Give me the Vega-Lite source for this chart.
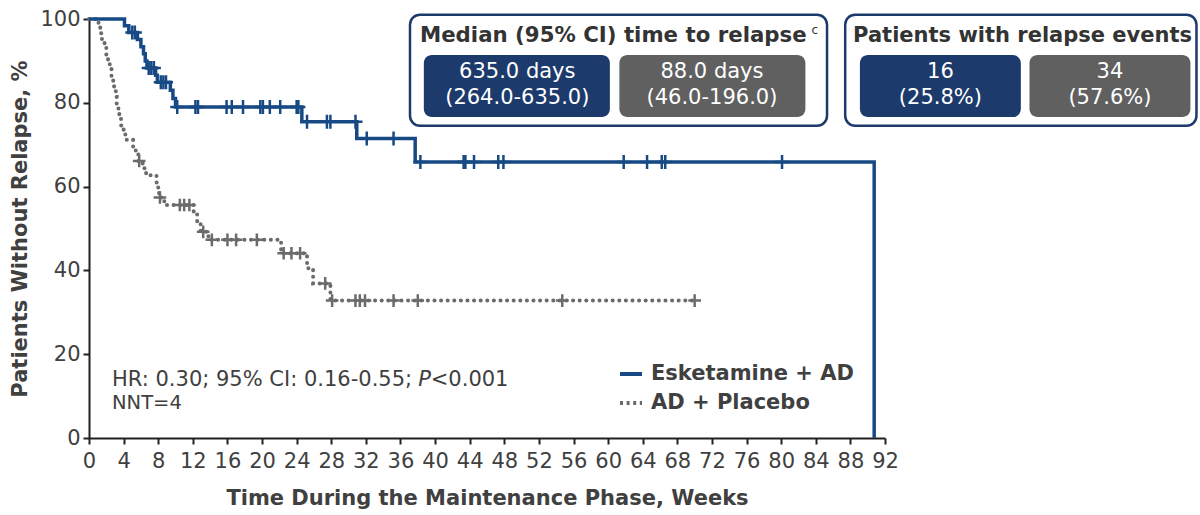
{
  "$schema": "https://vega.github.io/schema/vega-lite/v6.json",
  "width": 796,
  "height": 419,
  "autosize": {"type": "none"},
  "padding": {"left": 89, "top": 19, "right": 315, "bottom": 77},
  "background": "white",
  "config": {
    "view": {"stroke": null},
    "font": "DejaVu Sans",
    "axis": {
      "domainColor": "#231f20", "domainWidth": 2, "tickColor": "#231f20", "tickWidth": 2, "tickSize": 6,
      "labelFont": "DejaVu Sans", "labelFontSize": 21, "labelColor": "#404040", "labelOverlap": false, "labelFlush": false,
      "titleFont": "DejaVu Sans", "titleFontSize": 21, "titleFontWeight": "bold", "titleColor": "#404040",
      "grid": false
    }
  },
  "datasets": {
    "curves": [
      {"arm": "AD + Placebo", "week": 0, "pct": 100},
      {"arm": "AD + Placebo", "week": 1.1, "pct": 98.3},
      {"arm": "AD + Placebo", "week": 1.3, "pct": 96.6},
      {"arm": "AD + Placebo", "week": 1.5, "pct": 94.9},
      {"arm": "AD + Placebo", "week": 1.8, "pct": 93.2},
      {"arm": "AD + Placebo", "week": 2.0, "pct": 91.5},
      {"arm": "AD + Placebo", "week": 2.2, "pct": 89.8},
      {"arm": "AD + Placebo", "week": 2.4, "pct": 88.1},
      {"arm": "AD + Placebo", "week": 2.6, "pct": 86.4},
      {"arm": "AD + Placebo", "week": 2.8, "pct": 84.7},
      {"arm": "AD + Placebo", "week": 2.9, "pct": 83.1},
      {"arm": "AD + Placebo", "week": 3.1, "pct": 81.4},
      {"arm": "AD + Placebo", "week": 3.2, "pct": 79.7},
      {"arm": "AD + Placebo", "week": 3.4, "pct": 78.0},
      {"arm": "AD + Placebo", "week": 3.5, "pct": 76.3},
      {"arm": "AD + Placebo", "week": 3.7, "pct": 74.6},
      {"arm": "AD + Placebo", "week": 4.0, "pct": 72.9},
      {"arm": "AD + Placebo", "week": 4.2, "pct": 71.2},
      {"arm": "AD + Placebo", "week": 5.1, "pct": 69.5},
      {"arm": "AD + Placebo", "week": 5.4, "pct": 67.8},
      {"arm": "AD + Placebo", "week": 5.7, "pct": 66.1},
      {"arm": "AD + Placebo", "week": 6.2, "pct": 64.4},
      {"arm": "AD + Placebo", "week": 6.6, "pct": 62.7},
      {"arm": "AD + Placebo", "week": 7.8, "pct": 61.0},
      {"arm": "AD + Placebo", "week": 8.0, "pct": 59.2},
      {"arm": "AD + Placebo", "week": 8.1, "pct": 57.4},
      {"arm": "AD + Placebo", "week": 8.7, "pct": 55.6},
      {"arm": "AD + Placebo", "week": 12.1, "pct": 53.4},
      {"arm": "AD + Placebo", "week": 12.5, "pct": 51.3},
      {"arm": "AD + Placebo", "week": 12.9, "pct": 49.2},
      {"arm": "AD + Placebo", "week": 13.8, "pct": 47.3},
      {"arm": "AD + Placebo", "week": 22.2, "pct": 44.1},
      {"arm": "AD + Placebo", "week": 25.2, "pct": 40.5},
      {"arm": "AD + Placebo", "week": 25.9, "pct": 36.9},
      {"arm": "AD + Placebo", "week": 27.9, "pct": 32.8},
      {"arm": "AD + Placebo", "week": 70.0, "pct": 32.8},
      {"arm": "Esketamine + AD", "week": 0, "pct": 100},
      {"arm": "Esketamine + AD", "week": 4.1, "pct": 98.4},
      {"arm": "Esketamine + AD", "week": 4.6, "pct": 96.8},
      {"arm": "Esketamine + AD", "week": 5.6, "pct": 95.1},
      {"arm": "Esketamine + AD", "week": 6.0, "pct": 93.4},
      {"arm": "Esketamine + AD", "week": 6.3, "pct": 91.7},
      {"arm": "Esketamine + AD", "week": 6.5, "pct": 90.0},
      {"arm": "Esketamine + AD", "week": 6.7, "pct": 88.3},
      {"arm": "Esketamine + AD", "week": 7.7, "pct": 86.6},
      {"arm": "Esketamine + AD", "week": 7.9, "pct": 84.9},
      {"arm": "Esketamine + AD", "week": 9.4, "pct": 83.0},
      {"arm": "Esketamine + AD", "week": 9.7, "pct": 81.0},
      {"arm": "Esketamine + AD", "week": 10.0, "pct": 79.0},
      {"arm": "Esketamine + AD", "week": 24.6, "pct": 75.5},
      {"arm": "Esketamine + AD", "week": 30.95, "pct": 71.5},
      {"arm": "Esketamine + AD", "week": 37.7, "pct": 65.9},
      {"arm": "Esketamine + AD", "week": 90.75, "pct": 0}
    ],
    "censors": [
      {"arm": "AD + Placebo", "week": 5.8, "pct": 66.1},
      {"arm": "AD + Placebo", "week": 8.2, "pct": 57.4},
      {"arm": "AD + Placebo", "week": 10.5, "pct": 55.6},
      {"arm": "AD + Placebo", "week": 11.0, "pct": 55.6},
      {"arm": "AD + Placebo", "week": 11.6, "pct": 55.6},
      {"arm": "AD + Placebo", "week": 13.2, "pct": 49.2},
      {"arm": "AD + Placebo", "week": 14.2, "pct": 47.3},
      {"arm": "AD + Placebo", "week": 16.0, "pct": 47.3},
      {"arm": "AD + Placebo", "week": 17.0, "pct": 47.3},
      {"arm": "AD + Placebo", "week": 19.4, "pct": 47.3},
      {"arm": "AD + Placebo", "week": 22.5, "pct": 44.1},
      {"arm": "AD + Placebo", "week": 23.4, "pct": 44.1},
      {"arm": "AD + Placebo", "week": 24.4, "pct": 44.1},
      {"arm": "AD + Placebo", "week": 27.3, "pct": 36.9},
      {"arm": "AD + Placebo", "week": 28.1, "pct": 32.8},
      {"arm": "AD + Placebo", "week": 30.8, "pct": 32.8},
      {"arm": "AD + Placebo", "week": 31.3, "pct": 32.8},
      {"arm": "AD + Placebo", "week": 31.9, "pct": 32.8},
      {"arm": "AD + Placebo", "week": 35.2, "pct": 32.8},
      {"arm": "AD + Placebo", "week": 38.0, "pct": 32.8},
      {"arm": "AD + Placebo", "week": 54.7, "pct": 32.8},
      {"arm": "AD + Placebo", "week": 70.0, "pct": 32.8},
      {"arm": "Esketamine + AD", "week": 5.0, "pct": 96.8},
      {"arm": "Esketamine + AD", "week": 5.3, "pct": 96.8},
      {"arm": "Esketamine + AD", "week": 6.9, "pct": 88.3},
      {"arm": "Esketamine + AD", "week": 7.2, "pct": 88.3},
      {"arm": "Esketamine + AD", "week": 7.5, "pct": 88.3},
      {"arm": "Esketamine + AD", "week": 8.3, "pct": 84.9},
      {"arm": "Esketamine + AD", "week": 8.6, "pct": 84.9},
      {"arm": "Esketamine + AD", "week": 8.9, "pct": 84.9},
      {"arm": "Esketamine + AD", "week": 10.2, "pct": 79.0},
      {"arm": "Esketamine + AD", "week": 12.3, "pct": 79.0},
      {"arm": "Esketamine + AD", "week": 12.6, "pct": 79.0},
      {"arm": "Esketamine + AD", "week": 15.9, "pct": 79.0},
      {"arm": "Esketamine + AD", "week": 16.5, "pct": 79.0},
      {"arm": "Esketamine + AD", "week": 17.8, "pct": 79.0},
      {"arm": "Esketamine + AD", "week": 19.8, "pct": 79.0},
      {"arm": "Esketamine + AD", "week": 20.1, "pct": 79.0},
      {"arm": "Esketamine + AD", "week": 20.9, "pct": 79.0},
      {"arm": "Esketamine + AD", "week": 22.1, "pct": 79.0},
      {"arm": "Esketamine + AD", "week": 24.0, "pct": 79.0},
      {"arm": "Esketamine + AD", "week": 24.2, "pct": 79.0},
      {"arm": "Esketamine + AD", "week": 25.2, "pct": 75.5},
      {"arm": "Esketamine + AD", "week": 27.5, "pct": 75.5},
      {"arm": "Esketamine + AD", "week": 27.9, "pct": 75.5},
      {"arm": "Esketamine + AD", "week": 30.8, "pct": 75.5},
      {"arm": "Esketamine + AD", "week": 32.1, "pct": 71.5},
      {"arm": "Esketamine + AD", "week": 35.2, "pct": 71.5},
      {"arm": "Esketamine + AD", "week": 38.3, "pct": 65.9},
      {"arm": "Esketamine + AD", "week": 43.3, "pct": 65.9},
      {"arm": "Esketamine + AD", "week": 43.5, "pct": 65.9},
      {"arm": "Esketamine + AD", "week": 44.5, "pct": 65.9},
      {"arm": "Esketamine + AD", "week": 47.3, "pct": 65.9},
      {"arm": "Esketamine + AD", "week": 47.9, "pct": 65.9},
      {"arm": "Esketamine + AD", "week": 61.8, "pct": 65.9},
      {"arm": "Esketamine + AD", "week": 64.5, "pct": 65.9},
      {"arm": "Esketamine + AD", "week": 66.2, "pct": 65.9},
      {"arm": "Esketamine + AD", "week": 66.6, "pct": 65.9},
      {"arm": "Esketamine + AD", "week": 80.1, "pct": 65.9}
    ]
  },
  "encoding": {
    "x": {
      "type": "quantitative",
      "scale": {"domain": [0, 92], "nice": false, "zero": false},
      "axis": {"values": [0,4,8,12,16,20,24,28,32,36,40,44,48,52,56,60,64,68,72,76,80,84,88,92], "title": "Time During the Maintenance Phase, Weeks", "labelPadding": 6, "titlePadding": 16}
    },
    "y": {
      "type": "quantitative",
      "scale": {"domain": [0, 100], "nice": false, "zero": false},
      "axis": {"values": [0,20,40,60,80,100], "title": "Patients Without Relapse, %", "labelPadding": 3, "titlePadding": 9}
    }
  },
  "layer": [
    {
      "data": {"name": "curves"},
      "transform": [{"filter": "datum.arm === 'AD + Placebo'"}],
      "mark": {"type": "line", "interpolate": "step-after", "strokeCap": "round", "strokeWidth": 4, "strokeDash": [0.1, 6.5]},
      "encoding": {
        "x": {"field": "week", "type": "quantitative"},
        "y": {"field": "pct", "type": "quantitative"},
        "color": {"field": "arm", "type": "nominal", "scale": {"domain": ["Esketamine + AD", "AD + Placebo"], "range": ["#174a84", "#6b6b6b"]},
          "legend": {"title": null, "orient": "none", "legendX": 529, "legendY": 342, "symbolType": "stroke", "symbolSize": 484, "symbolStrokeWidth": 4, "labelFont": "DejaVu Sans", "labelFontSize": 21, "labelFontWeight": "bold", "labelColor": "#404040", "labelOffset": 7, "labelLimit": 400, "rowPadding": 6}}
      }
    },
    {
      "data": {"name": "curves"},
      "transform": [{"filter": "datum.arm === 'Esketamine + AD'"}],
      "mark": {"type": "line", "interpolate": "step-after", "strokeWidth": 3.5},
      "encoding": {
        "x": {"field": "week", "type": "quantitative"},
        "y": {"field": "pct", "type": "quantitative"},
        "color": {"field": "arm", "type": "nominal"},
        "strokeDash": {"field": "arm", "type": "nominal", "scale": {"domain": ["Esketamine + AD", "AD + Placebo"], "range": [[1, 0], [3, 3.6]]},
          "legend": {"title": null, "orient": "none", "legendX": 529, "legendY": 342, "symbolType": "stroke", "symbolSize": 484, "symbolStrokeWidth": 4, "labelFont": "DejaVu Sans", "labelFontSize": 21, "labelFontWeight": "bold", "labelColor": "#404040", "labelOffset": 7, "labelLimit": 400, "rowPadding": 6}}
      }
    },
    {
      "data": {"name": "censors"},
      "transform": [{"filter": "datum.arm === 'AD + Placebo'"}],
      "mark": {"type": "point", "shape": "M-1,0H1M0,-1V1", "filled": false, "stroke": "#6b6b6b", "strokeWidth": 2.5, "size": 160, "opacity": 1},
      "encoding": {"x": {"field": "week", "type": "quantitative"}, "y": {"field": "pct", "type": "quantitative"}}
    },
    {
      "data": {"name": "censors"},
      "transform": [{"filter": "datum.arm === 'Esketamine + AD'"}],
      "mark": {"type": "point", "shape": "M-1,0H1M0,-1V1", "filled": false, "stroke": "#174a84", "strokeWidth": 2.5, "size": 196, "opacity": 1},
      "encoding": {"x": {"field": "week", "type": "quantitative"}, "y": {"field": "pct", "type": "quantitative"}}
    },
    {
      "data": {"values": [{"box": "median"}]},
      "mark": {"type": "rect", "fill": "white", "stroke": "#1c3a6b", "strokeWidth": 2.5, "cornerRadius": 10},
      "encoding": {"x": {"datum": 37.1}, "x2": {"datum": 85.3}, "y": {"datum": 101.0}, "y2": {"datum": 74.5}}
    },
    {
      "data": {"values": [{"box": "events"}]},
      "mark": {"type": "rect", "fill": "white", "stroke": "#1c3a6b", "strokeWidth": 2.5, "cornerRadius": 10},
      "encoding": {"x": {"datum": 87.4}, "x2": {"datum": 128.0}, "y": {"datum": 101.0}, "y2": {"datum": 74.5}}
    },
    {
      "data": {"values": [{"box": "a"}]},
      "mark": {"type": "rect", "fill": "#1c3a6b", "cornerRadius": 8},
      "encoding": {"x": {"datum": 38.7}, "x2": {"datum": 60.2}, "y": {"datum": 91.4}, "y2": {"datum": 76.6}}
    },
    {
      "data": {"values": [{"box": "b"}]},
      "mark": {"type": "rect", "fill": "#606060", "cornerRadius": 8},
      "encoding": {"x": {"datum": 61.3}, "x2": {"datum": 82.8}, "y": {"datum": 91.4}, "y2": {"datum": 76.6}}
    },
    {
      "data": {"values": [{"box": "c"}]},
      "mark": {"type": "rect", "fill": "#1c3a6b", "cornerRadius": 8},
      "encoding": {"x": {"datum": 89.1}, "x2": {"datum": 107.7}, "y": {"datum": 91.4}, "y2": {"datum": 76.6}}
    },
    {
      "data": {"values": [{"box": "d"}]},
      "mark": {"type": "rect", "fill": "#606060", "cornerRadius": 8},
      "encoding": {"x": {"datum": 108.7}, "x2": {"datum": 127.3}, "y": {"datum": 91.4}, "y2": {"datum": 76.6}}
    },
    {
      "data": {"values": [{"t": "Median (95% CI) time to relapse"}]},
      "mark": {"type": "text", "font": "DejaVu Sans", "fontSize": 21.3, "fontWeight": "bold", "color": "#333333", "align": "center", "baseline": "middle"},
      "encoding": {"x": {"datum": 60.6}, "y": {"datum": 96.0}, "text": {"field": "t"}}
    },
    {
      "data": {"values": [{"t": "c"}]},
      "mark": {"type": "text", "font": "DejaVu Sans", "fontSize": 12, "color": "#333333", "align": "left", "baseline": "middle"},
      "encoding": {"x": {"datum": 83.5}, "y": {"datum": 97.4}, "text": {"field": "t"}}
    },
    {
      "data": {"values": [{"t": "Patients with relapse events"}]},
      "mark": {"type": "text", "font": "DejaVu Sans", "fontSize": 21, "fontWeight": "bold", "color": "#333333", "align": "center", "baseline": "middle"},
      "encoding": {"x": {"datum": 107.9}, "y": {"datum": 96.0}, "text": {"field": "t"}}
    },
    {
      "data": {"values": [{"t": "a"}]},
      "mark": {"type": "text", "font": "DejaVu Sans", "fontSize": 21, "color": "white", "align": "center", "baseline": "middle", "lineHeight": 26},
      "encoding": {"x": {"datum": 49.5}, "y": {"datum": 87.4}, "text": {"value": ["635.0 days", "(264.0-635.0)"]}}
    },
    {
      "data": {"values": [{"t": "b"}]},
      "mark": {"type": "text", "font": "DejaVu Sans", "fontSize": 21, "color": "white", "align": "center", "baseline": "middle", "lineHeight": 26},
      "encoding": {"x": {"datum": 72.0}, "y": {"datum": 87.4}, "text": {"value": ["88.0 days", "(46.0-196.0)"]}}
    },
    {
      "data": {"values": [{"t": "c"}]},
      "mark": {"type": "text", "font": "DejaVu Sans", "fontSize": 21, "color": "white", "align": "center", "baseline": "middle", "lineHeight": 26},
      "encoding": {"x": {"datum": 98.4}, "y": {"datum": 87.4}, "text": {"value": ["16", "(25.8%)"]}}
    },
    {
      "data": {"values": [{"t": "d"}]},
      "mark": {"type": "text", "font": "DejaVu Sans", "fontSize": 21, "color": "white", "align": "center", "baseline": "middle", "lineHeight": 26},
      "encoding": {"x": {"datum": 118.0}, "y": {"datum": 87.4}, "text": {"value": ["34", "(57.6%)"]}}
    },
    {
      "data": {"values": [{"t": "HR: 0.30; 95% CI: 0.16-0.55;"}]},
      "mark": {"type": "text", "font": "DejaVu Sans", "fontSize": 21, "color": "#404040", "align": "left", "baseline": "middle"},
      "encoding": {"x": {"datum": 2.66}, "y": {"datum": 13.8}, "text": {"field": "t"}}
    },
    {
      "data": {"values": [{"t": "P"}]},
      "mark": {"type": "text", "font": "DejaVu Sans", "fontSize": 21, "fontStyle": "italic", "color": "#404040", "align": "left", "baseline": "middle"},
      "encoding": {"x": {"datum": 38.05}, "y": {"datum": 13.8}, "text": {"field": "t"}}
    },
    {
      "data": {"values": [{"t": "<0.001"}]},
      "mark": {"type": "text", "font": "DejaVu Sans", "fontSize": 21, "color": "#404040", "align": "left", "baseline": "middle"},
      "encoding": {"x": {"datum": 39.5}, "y": {"datum": 13.8}, "text": {"field": "t"}}
    },
    {
      "data": {"values": [{"t": "NNT=4"}]},
      "mark": {"type": "text", "font": "DejaVu Sans", "fontSize": 19.5, "color": "#404040", "align": "left", "baseline": "middle"},
      "encoding": {"x": {"datum": 2.66}, "y": {"datum": 8.3}, "text": {"field": "t"}}
    }
  ]
}
